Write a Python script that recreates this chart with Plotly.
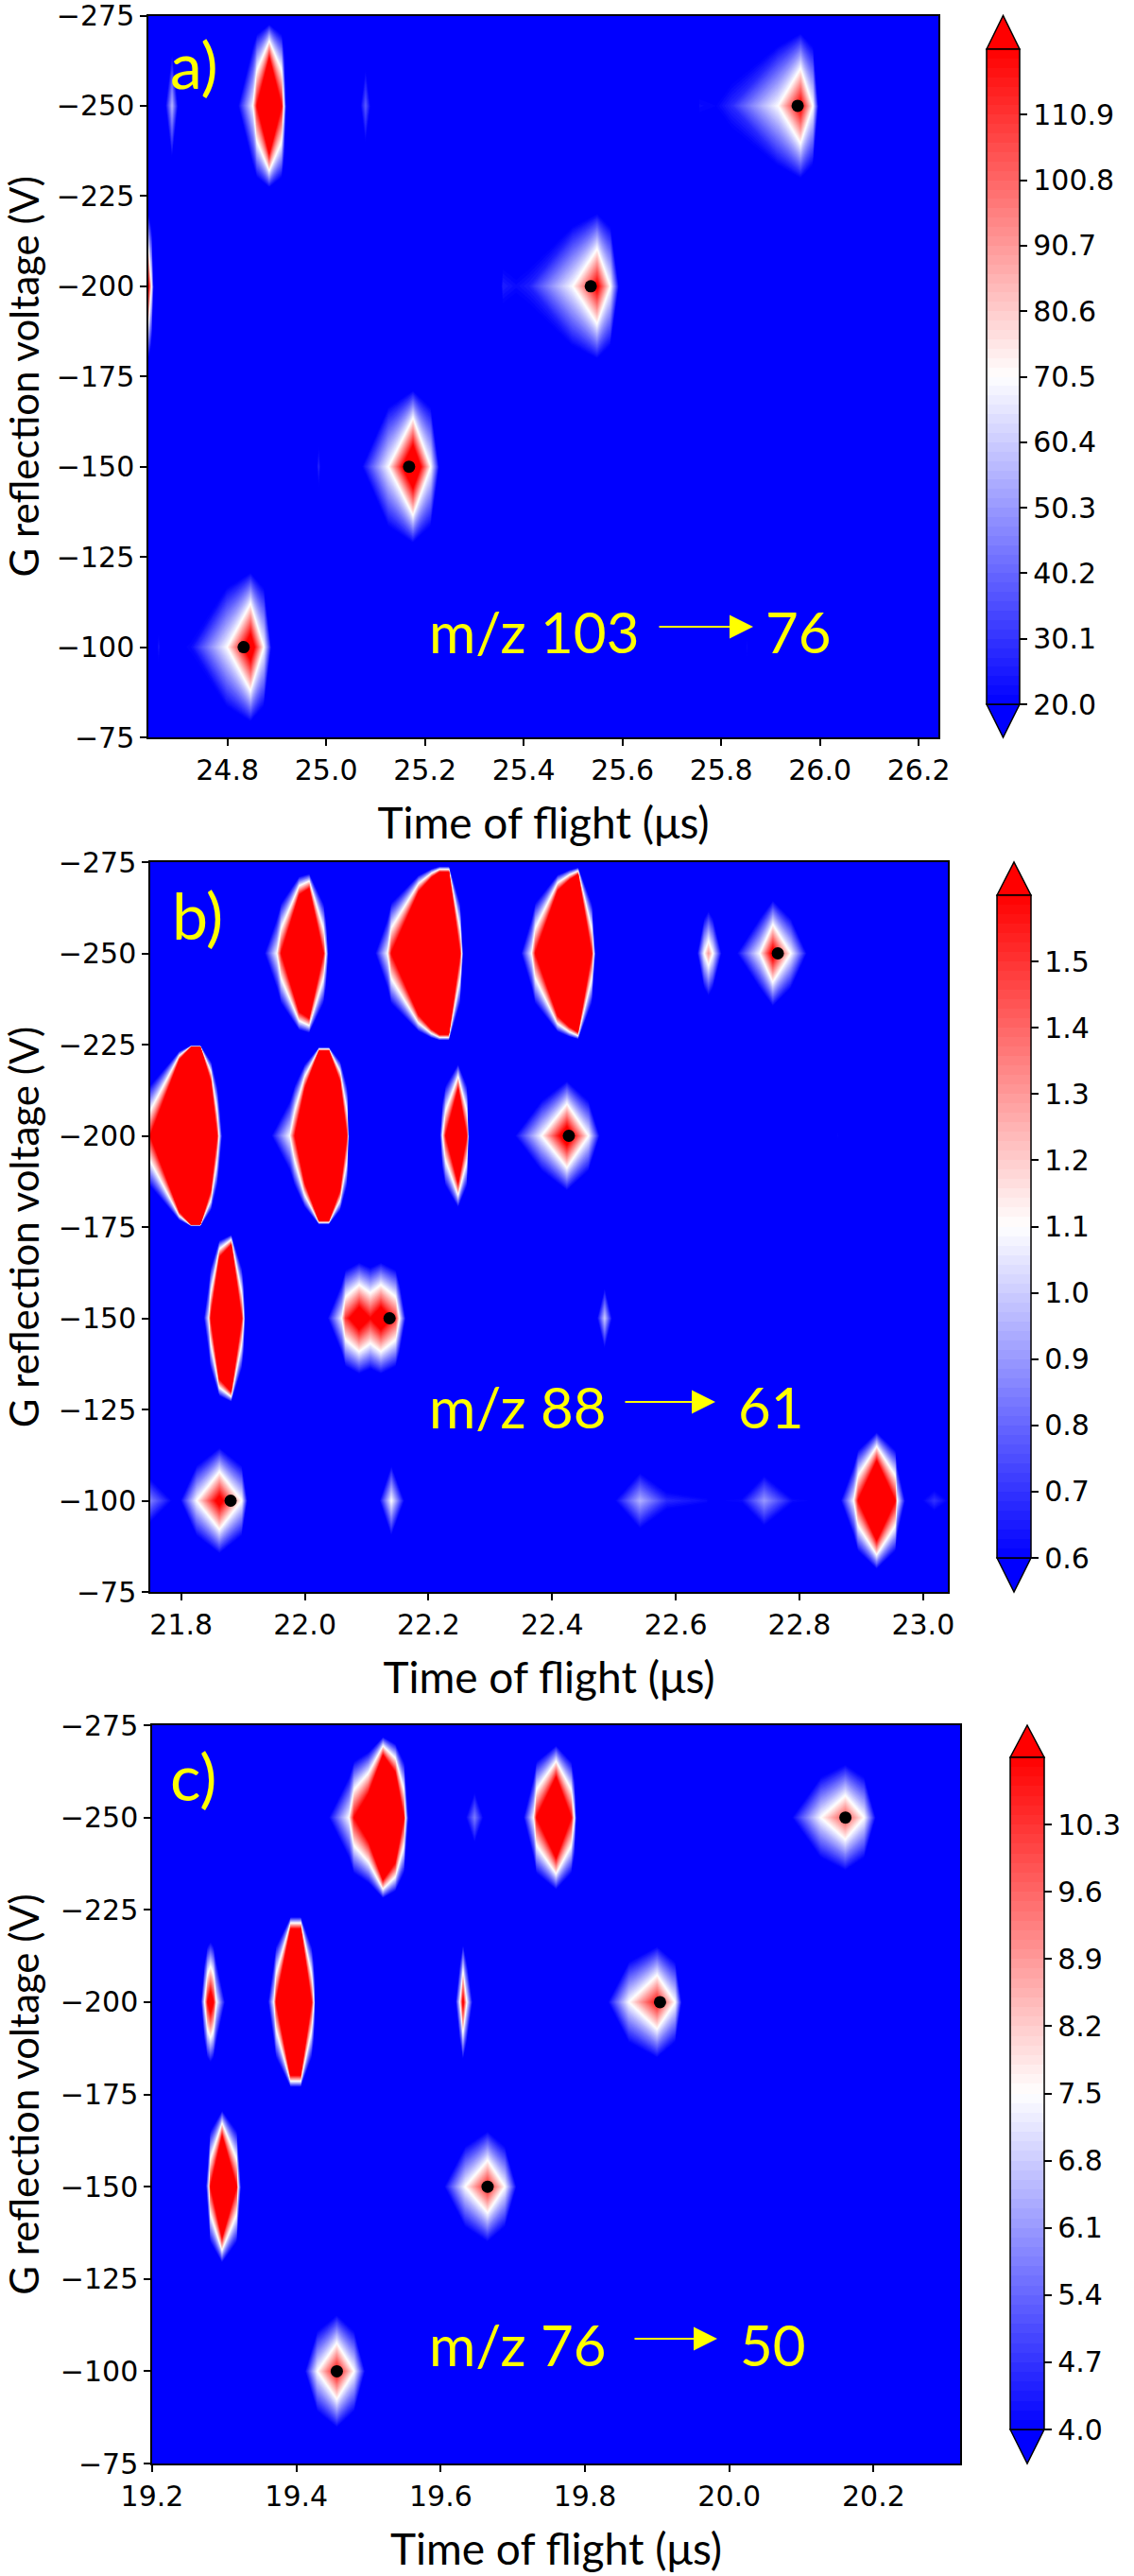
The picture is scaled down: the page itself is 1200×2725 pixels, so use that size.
import plotly.graph_objects as go

W, H = 1200, 2725
VOLTS = [-100, -150, -200, -250]
TITLE_X = "Time of flight (μs)"
TITLE_Y = "G reflection voltage (V)"

# ---------- panel a ----------
a_base = -6
a_x_100 = [24.64, 24.652, 24.661, 24.672, 24.70, 24.717, 24.728, 24.799, 24.847, 24.874, 24.889, 24.895, 25.845, 25.852, 25.859, 26.24]
a_z_100 = [-6, -6, 26, -6, -6, 20, 22, 70, 142, 70, 20, -6, -6, 24, -6, -6]
a_x_150 = [24.64, 24.97, 24.985, 25.00, 25.045, 25.073, 25.126, 25.176, 25.212, 25.229, 25.236, 26.24]
a_z_150 = [-6, -6, 28, -6, -6, 20, 70, 160, 70, 20, -6, -6]
a_x_200 = [24.64, 24.646, 24.653, 25.34, 25.358, 25.385, 25.411, 25.499, 25.549, 25.576, 25.593, 25.60, 26.24]
a_z_200 = [125, 72, -6, -6, 26, 22, 26, 70, 125, 70, 20, -6, -6]
a_x_250 = [24.64, 24.665, 24.675, 24.688, 24.70, 24.712, 24.81, 24.822, 24.852, 24.860, 24.885, 24.910, 24.914, 24.919, 24.925,
           25.065, 25.07, 25.08, 25.09, 25.095, 25.74, 25.756, 25.79, 25.821, 25.915, 25.961, 25.986, 25.997, 26.003, 26.24]
a_z_250 = [-6, -6, 20, 56, 20, -6, -6, 20, 70, 121, 265, 121, 70, 20, -6,
           -6, 20, 38, 20, -6, -6, 22, 20, 28, 70, 125, 70, 20, -6, -6]
a_dot_x = [24.833, 25.168, 25.536, 25.955]
a_ticks = [20.0, 30.1, 40.2, 50.3, 60.4, 70.5, 80.6, 90.7, 100.8, 110.9]

# ---------- panel b ----------
b_base = -0.2
b_x_100 = [21.75, 21.785, 21.799, 21.825, 21.862, 21.898, 21.907, 21.913, 22.115, 22.121, 22.14, 22.161, 22.167, 22.495, 22.502, 22.542, 22.586,
           22.65, 22.66, 22.677, 22.707, 22.743, 22.789, 22.817, 22.85, 22.867, 22.888, 22.895, 22.925, 22.955, 22.958, 22.971, 22.98, 23.003, 23.018, 23.04]
b_z_100 = [0.85, 0.6, 0.6, 1.1, 1.7, 1.1, 0.6, -0.2, -0.2, 0.6, 1.1, 0.6, -0.2, -0.2, 0.6, 0.95, 0.68,
           0.62, 0.55, 0.6, 0.62, 0.9, 0.62, 0.6, 0.5, 0.6, 1.1, 1.6, 3.0, 1.6, 1.1, 0.6, 0.5, 0.62, 0.7, 0.6]
b_x_150 = [21.75, 21.833, 21.837, 21.845, 21.848, 21.862, 21.881, 21.898, 21.901, 21.903, 21.907, 22.03, 22.037, 22.060, 22.066, 22.088, 22.106, 22.123,
           22.147, 22.153, 22.163, 22.168, 22.467, 22.473, 22.485, 22.497, 22.503, 23.04]
b_z_150 = [-0.2, -0.2, 0.6, 1.1, 1.6, 5.2, 9, 1.6, 1.1, 0.6, -0.2, -0.2, 0.6, 1.1, 1.5, 1.85, 1.6, 1.85,
           1.5, 1.1, 0.6, -0.2, -0.2, 0.6, 1.0, 0.6, -0.2, -0.2]
b_x_200 = [21.75, 21.797, 21.816, 21.831, 21.848, 21.858, 21.861, 21.866, 21.871, 21.94, 21.946, 21.976, 21.984, 22.0, 22.023, 22.039, 22.057, 22.068, 22.071, 22.075,
           22.215, 22.219, 22.223, 22.228, 22.248, 22.262, 22.265, 22.269, 22.335, 22.34, 22.383, 22.424, 22.459, 22.477, 22.483, 22.858, 22.862, 22.866, 23.04]
b_z_200 = [1.6, 10.4, 60, 60, 4.2, 1.6, 1.1, 0.6, -0.2, -0.2, 0.6, 1.1, 1.6, 3.5, 25, 25, 4.2, 1.6, 0.6, -0.2,
           -0.2, 0.6, 1.1, 1.6, 3.5, 1.6, 0.6, -0.2, -0.2, 0.6, 1.1, 1.8, 1.1, 0.6, -0.2, -0.2, 0.66, -0.2, -0.2]
b_x_250 = [21.75, 21.923, 21.935, 21.955, 21.962, 21.991, 22.007, 22.030, 22.034, 22.038, 22.042, 22.108, 22.114, 22.134, 22.140, 22.184, 22.205, 22.218, 22.233, 22.251, 22.256, 22.26,
           22.345, 22.35, 22.367, 22.373, 22.409, 22.428, 22.442, 22.464, 22.470, 22.475, 22.630, 22.635, 22.646, 22.653, 22.660, 22.674, 22.678, 22.695, 22.699, 22.736, 22.757, 22.786, 22.812, 22.817, 23.04]
b_z_250 = [-0.2, -0.2, 0.6, 1.1, 1.6, 4.8, 6, 1.6, 1.1, 0.6, -0.2, -0.2, 0.6, 1.1, 1.6, 5.3, 10.4, 16, 16, 1.6, 0.6, -0.2,
           -0.2, 0.6, 1.1, 1.6, 5.5, 9, 13, 1.6, 0.6, -0.2, -0.2, 0.6, 1.1, 1.3, 1.1, 0.6, -0.2, -0.2, 0.6, 1.1, 1.7, 1.1, 0.6, -0.2, -0.2]
b_dot_x = [21.88, 22.137, 22.427, 22.765]
b_ticks = [0.6, 0.7, 0.8, 0.9, 1.0, 1.1, 1.2, 1.3, 1.4, 1.5]

# ---------- panel c ----------
c_base = -0.5
c_x_100 = [19.2, 19.407, 19.412, 19.429, 19.456, 19.48, 19.495, 19.50, 20.32]
c_z_100 = [-0.5, -0.5, 4, 7.5, 11, 7.5, 4, -0.5, -0.5]
c_x_150 = [19.2, 19.271, 19.275, 19.279, 19.281, 19.297, 19.317, 19.319, 19.323, 19.327, 19.60, 19.605, 19.634, 19.665, 19.689, 19.705, 19.71, 20.32]
c_z_150 = [-0.5, -0.5, 4, 7.5, 11, 25, 11, 7.5, 4, -0.5, -0.5, 4, 7.5, 10.7, 7.5, 4, -0.5, -0.5]
c_x_200 = [19.2, 19.262, 19.268, 19.273, 19.277, 19.281, 19.285, 19.289, 19.301, 19.306, 19.356, 19.361, 19.369, 19.372, 19.392, 19.406, 19.421, 19.424, 19.428,
           19.616, 19.621, 19.627, 19.631, 19.636, 19.644, 19.649, 19.827, 19.832, 19.861, 19.90, 19.925, 19.934, 19.939, 20.32]
c_z_200 = [-0.5, -0.5, 4, 7.5, 11, 12.5, 11, 7.5, 4, -0.5, -0.5, 4, 7.5, 11, 55, 55, 11, 7.5, -0.5,
           -0.5, 4, 7.5, 11.5, 7.5, 4, -0.5, -0.5, 4, 7.5, 10.8, 7.5, 4, -0.5, -0.5]
c_x_250 = [19.2, 19.44, 19.445, 19.473, 19.480, 19.50, 19.52, 19.537, 19.549, 19.551, 19.555, 19.559, 19.632, 19.635, 19.647, 19.659, 19.662,
           19.71, 19.715, 19.729, 19.733, 19.76, 19.781, 19.785, 19.788, 19.792, 20.082, 20.087, 20.127, 20.161, 20.187, 20.203, 20.208, 20.32]
c_z_250 = [-0.5, -0.5, 4, 7.5, 11, 15, 35, 22, 11, 7.5, 4, -0.5, -0.5, 4, 5.7, 4, -0.5,
           -0.5, 4, 7.5, 11, 20, 11, 7.5, 4, -0.5, -0.5, 4, 7.5, 10, 7.5, 4, -0.5, -0.5]
c_dot_x = [19.456, 19.665, 19.904, 20.161]
c_ticks = [4.0, 4.7, 5.4, 6.1, 6.8, 7.5, 8.2, 8.9, 9.6, 10.3]

SCALE = [[0, "#0000ff"], [0.5, "#ffffff"], [1, "#ff0000"]]


def px(v):
    return v / W


def py(v):
    return 1 - v / H


panels = [
    dict(key="", label="a)", rows=[(a_x_100, a_z_100), (a_x_150, a_z_150), (a_x_200, a_z_200), (a_x_250, a_z_250)],
         base=a_base, dots=a_dot_x, ticks=a_ticks, zmin=20.0, zmax=121.0, fmt="%.1f",
         xr=[24.64, 26.24], tick0=24.8, box=(157, 993, 16.5, 780), cb=(1044, 1079, 52, 745),
         lab=(178, 68), left=("m/z 103", 452, 668), arrow=(696, 797, 663), right=("76", 808, 668)),
    dict(key="2", label="b)", rows=[(b_x_100, b_z_100), (b_x_150, b_z_150), (b_x_200, b_z_200), (b_x_250, b_z_250)],
         base=b_base, dots=b_dot_x, ticks=b_ticks, zmin=0.6, zmax=1.6, fmt="%.1f",
         xr=[21.75, 23.04], tick0=21.8, box=(159, 1003, 912, 1684), cb=(1055, 1091, 947, 1648),
         lab=(180, 968), left=("m/z 88", 452, 1488), arrow=(660, 757, 1483), right=("61", 779, 1488)),
    dict(key="3", label="c)", rows=[(c_x_100, c_z_100), (c_x_150, c_z_150), (c_x_200, c_z_200), (c_x_250, c_z_250)],
         base=c_base, dots=c_dot_x, ticks=c_ticks, zmin=4.0, zmax=11.0, fmt="%.1f",
         xr=[19.2, 20.32], tick0=19.2, box=(161, 1016, 1825, 2606), cb=(1069, 1105, 1859, 2570),
         lab=(178, 1878), left=("m/z 76", 452, 2480), arrow=(670, 759, 2474), right=("50", 781, 2480)),
]

fig = go.Figure()
layout = dict(width=W, height=H, autosize=False, margin=dict(l=0, r=0, t=0, b=0, autoexpand=False), showlegend=False,
              template="none", paper_bgcolor="white", plot_bgcolor="#0000ff",
              font=dict(family="DejaVu Sans", color="black", size=30))
shapes, annotations = [], []
TEXT = dict(family="Lato", color="#ffff00")

for p in panels:
    k = p["key"]
    x0, x1, top, bottom = p["box"]
    layout["xaxis" + k] = dict(domain=[px(x0), px(x1)], anchor="y" + k, range=p["xr"], dtick=0.2, tick0=p["tick0"],
                               tickformat=".1f", ticks="outside", ticklen=7, tickwidth=1.5, tickcolor="black",
                               showline=True, mirror=True, linecolor="black", linewidth=1.5, showgrid=False, zeroline=False,
                               automargin=False, tickfont=dict(size=30, family="DejaVu Sans"),
                               title=dict(text=TITLE_X, font=dict(family="Lato", size=46), standoff=24))
    layout["yaxis" + k] = dict(domain=[py(bottom), py(top)], anchor="x" + k, range=[-75, -275], dtick=25, tick0=-75,
                               ticks="outside", ticklen=7, tickwidth=1.5, tickcolor="black", ticklabeloverflow="allow",
                               showline=True, mirror=True, linecolor="black", linewidth=1.5, showgrid=False, zeroline=False,
                               automargin=False, tickfont=dict(size=30, family="DejaVu Sans"),
                               title=dict(text=TITLE_Y, font=dict(family="Lato", size=42), standoff=10))
    step = (p["zmax"] - p["zmin"]) / 70
    for i, (volt, (xs, zs)) in enumerate(zip(VOLTS, p["rows"])):
        flat = [p["base"]] * len(xs)
        tr = dict(x=xs, y=[volt - 25, volt, volt + 25], z=[flat, zs, flat], xaxis="x" + k, yaxis="y" + k,
                  zauto=False, zmin=p["zmin"], zmax=p["zmax"], colorscale=SCALE, autocontour=False,
                  contours=dict(coloring="fill", start=p["zmin"], end=p["zmax"], size=step, showlines=False),
                  line=dict(width=0, smoothing=0), hoverinfo="skip", showscale=(i == 0))
        if i == 0:
            c0, c1, ct, cb = p["cb"]
            tr["colorbar"] = dict(x=px(c0), xanchor="left", xpad=0, ypad=0, thickness=c1 - c0, thicknessmode="pixels",
                                  len=cb - ct, lenmode="pixels", y=py((ct + cb) / 2), yanchor="middle",
                                  tickmode="array", tickvals=p["ticks"], ticktext=[p["fmt"] % t for t in p["ticks"]],
                                  ticks="outside", ticklen=8, tickwidth=1.5, tickcolor="black",
                                  outlinecolor="black", outlinewidth=1.5,
                                  tickfont=dict(size=30, family="DejaVu Sans"))
        fig.add_trace(go.Contour(**tr))
    fig.add_trace(go.Scatter(x=p["dots"], y=VOLTS, xaxis="x" + k, yaxis="y" + k, mode="markers",
                             marker=dict(color="black", size=13), hoverinfo="skip"))
    c0, c1, ct, cb = p["cb"]
    cm = (c0 + c1) / 2
    for (yb, yt, colr) in [(ct, top, "#ff0000"), (cb, bottom, "#0000ff")]:
        shapes.append(dict(type="path", xref="paper", yref="paper",
                           path=f"M {px(c0)} {py(yb)} L {px(cm)} {py(yt)} L {px(c1)} {py(yb)} Z",
                           fillcolor=colr, line=dict(color="black", width=1.5)))
    annotations.append(dict(text=p["label"], xref="paper", yref="paper", x=px(p["lab"][0]), y=py(p["lab"][1]),
                            xanchor="left", yanchor="middle", showarrow=False, font=dict(size=68, **TEXT)))
    txt, tx, ty = p["left"]
    annotations.append(dict(text=txt, xref="paper", yref="paper", x=px(tx), y=py(ty), xanchor="left", yanchor="middle",
                            showarrow=False, font=dict(size=60, **TEXT)))
    txt, tx, ty = p["right"]
    annotations.append(dict(text=txt, xref="paper", yref="paper", x=px(tx), y=py(ty), xanchor="left", yanchor="middle",
                            showarrow=False, font=dict(size=60, **TEXT)))
    ax0, ax1, ay = p["arrow"]
    annotations.append(dict(text="", xref="paper", yref="paper", x=px(ax1), y=py(ay), axref="pixel", ayref="pixel",
                            ax=ax0 - ax1, ay=0, showarrow=True, arrowhead=2, arrowsize=2.5, arrowwidth=2,
                            arrowcolor="#ffff00"))

fig.update_layout(shapes=shapes, annotations=annotations, **layout)
fig.write_html("out.html", config=dict(displayModeBar=False),
               post_script="document.body.style.margin='0';document.body.style.overflow='hidden';")
